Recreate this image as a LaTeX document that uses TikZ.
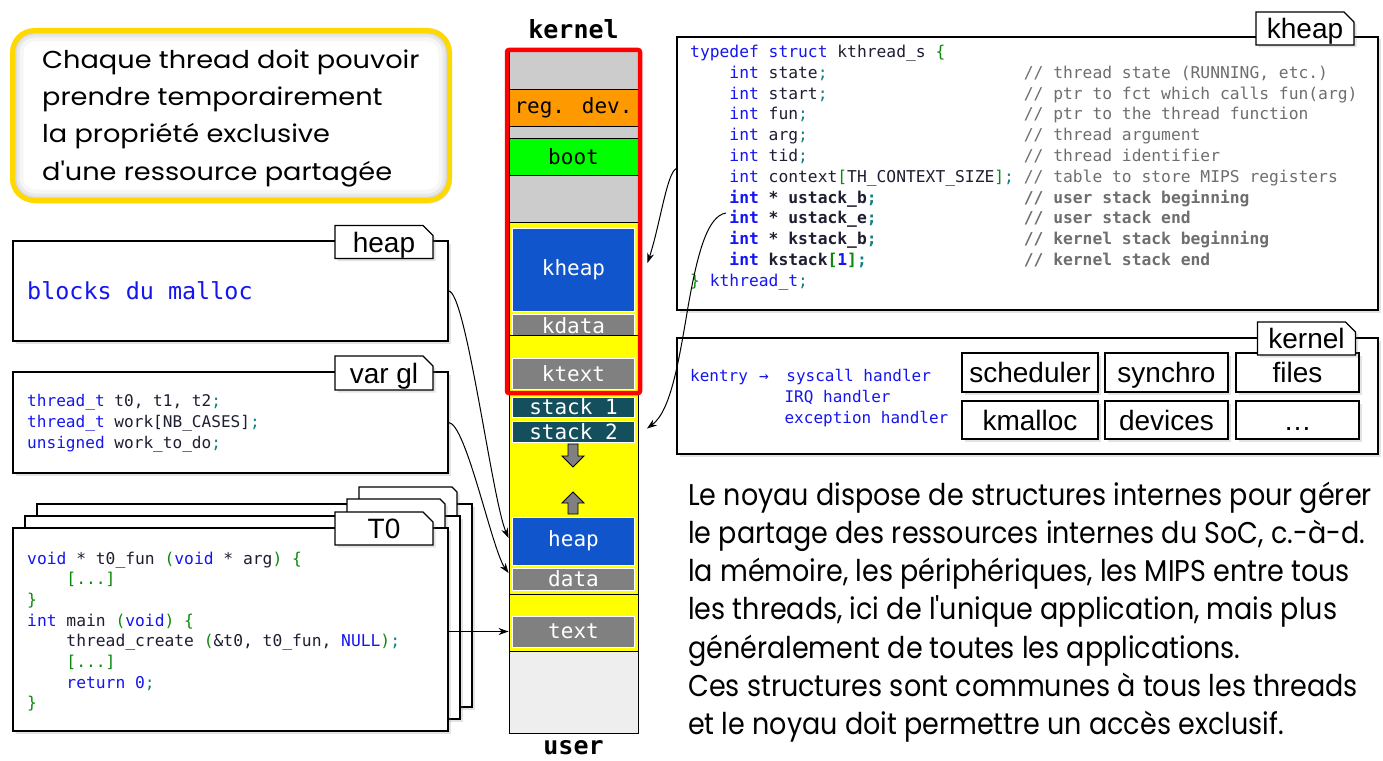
\documentclass[tikz,border=0pt]{standalone}
\usepackage{fontspec}
\usetikzlibrary{shadows,shapes.misc,arrows.meta}
\setmainfont{Liberation Sans}
\newfontfamily\tabfont{Liberation Sans}
\newfontfamily\codefont{DejaVu Sans Mono}
\newfontfamily\notefont[FakeStretch=1.11]{Poppins}
\newfontfamily\parafont[FakeStretch=0.90]{Poppins}

\definecolor{memgray}{HTML}{CCCCCC}
\definecolor{memlight}{HTML}{EEEEEE}
\definecolor{memorange}{HTML}{FF9900}
\definecolor{memgreen}{HTML}{00FF00}
\definecolor{memyellow}{HTML}{FFFF00}
\definecolor{memblue}{HTML}{1155CC}
\definecolor{segray}{HTML}{808080}
\definecolor{memteal}{HTML}{134F5C}
\definecolor{noteyellow}{HTML}{FFD800}
\definecolor{kwblue}{HTML}{1515F0}
\definecolor{codeink}{HTML}{1E1E32}
\definecolor{codegreen}{HTML}{0A8A0A}
\definecolor{codeteal}{HTML}{128080}
\definecolor{codegray}{HTML}{6E6E6E}

% code colouring helpers
\newcommand\kwd[1]{\textcolor{kwblue}{#1}}
\newcommand\grn[1]{\textcolor{codegreen}{#1}}
\newcommand\semicol{\textcolor{codeteal}{;}}
\newcommand\cmt[1]{\textcolor{codegray}{#1}}
\newcommand\indt{\hspace*{2.408em}}
\newcommand\ccol[1]{\makebox[18.06em][l]{#1}}

\tikzset{
  softshadow/.style={drop shadow={shadow xshift=2.5pt,shadow yshift=-2.5pt,opacity=0.22}},
  card/.style={draw=black, line width=1.1pt, fill=white, inner sep=0pt, softshadow},
  tabbox/.style={chamfered rectangle, chamfered rectangle corners=north east,
    chamfered rectangle xsep=5pt, chamfered rectangle ysep=5pt,
    draw=black, line width=1.1pt, fill=white, minimum width=98pt, minimum height=33pt,
    inner sep=0pt, text height=20pt, text depth=0pt,
    font=\tabfont\fontsize{28}{30}\selectfont, softshadow},
  unitbox/.style={draw=black, line width=1.1pt, fill=white, inner sep=0pt,
    text height=20pt, text depth=0pt, font=\tabfont\fontsize{28}{30}\selectfont, softshadow},
  memcell/.style={draw=black, line width=0.9pt, minimum width=129pt, inner sep=0pt,
    font=\codefont\fontsize{21}{24}\selectfont},
  memblk/.style={draw=white, line width=0.9pt, minimum width=122pt, inner sep=0pt,
    text=white, font=\codefont\fontsize{21}{24}\selectfont},
  codetxt/.style={inner sep=0pt, text=codeink, anchor=base west},
  conn/.style={-{Stealth[length=10pt,width=7pt]}, line width=1pt},
  blockarrow/.style={fill=segray, draw=black, line width=0.8pt},
  notebox/.style={draw=noteyellow, line width=5pt, rounded corners=22pt, fill=white,
    minimum width=437pt, minimum height=170pt, inner sep=0pt,
    drop shadow={shadow xshift=2pt,shadow yshift=-3pt,opacity=0.18},
    path picture={
      \foreach \w/\o in {22/0.035,14/0.05,8/0.07}{
        \draw[line width=\w pt, black, opacity=\o, rounded corners=22pt]
          (path picture bounding box.south west) rectangle (path picture bounding box.north east);}}},
  notetxt/.style={inner sep=0pt, anchor=base west, font=\notefont\fontsize{24.5}{30}\selectfont},
  paratxt/.style={inner sep=0pt, anchor=base west, font=\parafont\fontsize{30}{38}\selectfont},
}

\begin{document}
\begin{tikzpicture}[x=1pt,y=-1pt]
\useasboundingbox (0,0) rectangle (1383,760);

% ---------- note ----------
\node[notebox] (note) at (231,115.5) {};
\node[notetxt] (n1) at (42,68) {Chaque thread doit pouvoir};
\node[notetxt] (n2) at (42,105) {prendre temporairement};
\node[notetxt] (n3) at (42,142.5) {la propriété exclusive};
\node[notetxt] (n4) at (42,180) {d'une ressource partagée};

% ---------- heap ----------
\node[card, minimum width=435pt, minimum height=100pt] (heapbox) at (230.5,291) {};
\node[tabbox] (heaptab) at (384,242) {heap};
\node[codetxt, text=kwblue, font=\codefont\fontsize{23.4}{26}\selectfont] (malloc) at (27,299) {blocks du malloc};

% ---------- global variables ----------
\node[card, minimum width=435pt, minimum height=101pt] (varbox) at (230.5,422.5) {};
\node[tabbox, minimum height=34pt] (vartab) at (384,373) {var gl};
\node[codetxt, font=\codefont\fontsize{16.1}{20.7}\selectfont] (varcode) at (27,406.7) {%
\begin{tabular}[t]{@{}l@{}}
\kwd{thread\_t} t0, t1, t2\semicol\\
\kwd{thread\_t} work[NB\_CASES]\semicol\\
\kwd{unsigned} work\_to\_do\semicol
\end{tabular}};

% ---------- thread stack of cards ----------
\node[card, minimum width=435pt, minimum height=203pt] (tback2) at (254.5,605.5) {};
\node[tabbox] (tbacktab2) at (408,503.5) {};
\node[card, minimum width=435pt, minimum height=203pt] (tback1) at (242.5,617.5) {};
\node[tabbox] (tbacktab1) at (396,515.5) {};
\node[card, minimum width=435pt, minimum height=203pt] (tfront) at (230.5,629.5) {};
\node[tabbox] (tfronttab) at (384,528.5) {T0};
\node[codetxt, font=\codefont\fontsize{16.3}{20.7}\selectfont] (tcode) at (27,564) {%
\begin{tabular}[t]{@{}l@{}}
\kwd{void} * t0\_fun \grn{(}\kwd{void} * arg\grn{)} \grn{\{}\\
\indt\grn{[...]}\\
\grn{\}}\\
\kwd{int} main \grn{(}\kwd{void}\grn{)} \grn{\{}\\
\indt thread\_create \grn{(}\&t0, t0\_fun, \kwd{NULL}\grn{)}\semicol\\
\indt\grn{[...]}\\
\indt\kwd{return 0}\semicol\\
\grn{\}}
\end{tabular}};

% ---------- memory map ----------
\node[font=\codefont\bfseries\fontsize{25}{28}\selectfont, inner sep=0pt, anchor=base] (klabel) at (573.5,39) {kernel};
\node[memcell, fill=memgray, minimum height=41pt] (mtop) at (573.5,68.5) {};
\node[memcell, fill=memorange, minimum height=37pt] (mreg) at (573.5,107.5) {reg. dev.};
\node[memcell, fill=memgray, minimum height=12pt] (mgap) at (573.5,132) {};
\node[memcell, fill=memgreen, minimum height=37pt] (mboot) at (573.5,156.5) {boot};
\node[memcell, fill=memgray, minimum height=47pt] (mfree) at (573.5,198.5) {};
\node[memcell, fill=memyellow, minimum height=113pt] (kdseg) at (573.5,278.5) {};
\node[memblk, fill=memblue, minimum height=83pt] (kheapblk) at (573.5,269.5) {kheap};
\begin{scope}
  \clip (kdseg.north west) rectangle (kdseg.south east);
  \node[memblk, fill=segray, minimum height=24pt] (kdatablk) at (573.5,326) {kdata};
\end{scope}
\node[memcell, fill=memyellow, minimum height=58pt] (ktseg) at (573.5,364) {};
\node[memblk, fill=segray, minimum height=31pt] (ktextblk) at (573.5,373.5) {ktext};
\node[memcell, fill=memyellow, minimum height=201pt] (useg) at (573.5,493.5) {};
\node[memblk, fill=memteal, minimum height=20pt] (stk1) at (573.5,407) {stack 1};
\node[memblk, fill=memteal, minimum height=21pt] (stk2) at (573.5,431.5) {stack 2};
\node[memblk, fill=memblue, minimum height=48pt] (uheap) at (573.5,541) {heap};
\node[memblk, fill=segray, minimum height=22pt] (udata) at (573.5,579) {data};
\node[memcell, fill=memyellow, minimum height=57pt] (tseg) at (573.5,622.5) {};
\node[memblk, fill=segray, minimum height=31pt] (utext) at (573.5,631.5) {text};
\node[memcell, fill=memlight, minimum height=82pt] (mbot) at (573.5,692) {};
\node[font=\codefont\bfseries\fontsize{25}{28}\selectfont, inner sep=0pt, anchor=base] (ulabel) at (573.5,754) {user};
% kernel area frame
\draw[red, line width=4.5pt, rounded corners=2pt] (507,50) rectangle (640,393);
% stack and heap growth directions
\draw[blockarrow] (568,444) -- (578,444) -- (578,456) -- (584,456) -- (573,467) -- (562,456) -- (568,456) -- cycle;
\draw[blockarrow] (568,514) -- (578,514) -- (578,503) -- (584,503) -- (573,492) -- (562,503) -- (568,503) -- cycle;

% ---------- kthread structure ----------
\node[card, minimum width=701pt, minimum height=273pt] (kthbox) at (1027.5,173.5) {};
\node[tabbox] (kheaptab) at (1305,28.5) {kheap};
\node[codetxt, font=\codefont\fontsize{16.3}{20.8}\selectfont] (kcode) at (690,57.5) {%
\begin{tabular}[t]{@{}l@{}}
\kwd{typedef struct} kthread\_s \grn{\{}\\
\indt\ccol{\kwd{int} state\semicol}\cmt{// thread state (RUNNING, etc.)}\\
\indt\ccol{\kwd{int} start\semicol}\cmt{// ptr to fct which calls fun(arg)}\\
\indt\ccol{\kwd{int} fun\semicol}\cmt{// ptr to the thread function}\\
\indt\ccol{\kwd{int} arg\semicol}\cmt{// thread argument}\\
\indt\ccol{\kwd{int} tid\semicol}\cmt{// thread identifier}\\
\indt\ccol{\kwd{int} context\grn{[}TH\_CONTEXT\_SIZE\grn{]}\semicol}\cmt{// table to store MIPS registers}\\
\bfseries\indt\ccol{\kwd{int} * ustack\_b\semicol}\cmt{// user stack beginning}\\
\bfseries\indt\ccol{\kwd{int} * ustack\_e\semicol}\cmt{// user stack end}\\
\bfseries\indt\ccol{\kwd{int} * kstack\_b\semicol}\cmt{// kernel stack beginning}\\
\bfseries\indt\ccol{\kwd{int} kstack\grn{[}\kwd{1}\grn{]}\semicol}\cmt{// kernel stack end}\\
\grn{\}} \kwd{kthread\_t}\semicol
\end{tabular}};

% ---------- kernel services ----------
\node[card, minimum width=701pt, minimum height=116pt] (kernbox) at (1027.5,396) {};
\node[codetxt, text=kwblue, font=\codefont\fontsize{16}{20.7}\selectfont] (kentry) at (690,381.7) {%
\begin{tabular}[t]{@{}l@{}}
kentry\hspace*{0.7em}→\hspace*{1.1em}syscall handler\\
\hspace*{5.9em}IRQ handler\\
\hspace*{5.9em}exception handler
\end{tabular}};
\node[unitbox, minimum width=136pt, minimum height=39pt] (sched) at (1030,372.5) {scheduler};
\node[unitbox, minimum width=123pt, minimum height=39pt] (sync) at (1166.5,372.5) {synchro};
\node[unitbox, minimum width=123pt, minimum height=39pt] (files) at (1297.5,372.5) {files};
\node[unitbox, minimum width=136pt, minimum height=38pt] (kmal) at (1030,420) {kmalloc};
\node[unitbox, minimum width=123pt, minimum height=38pt] (devs) at (1166.5,420) {devices};
\node[unitbox, minimum width=123pt, minimum height=38pt] (more) at (1297.5,420) {…};
\node[tabbox] (kerntab) at (1306.5,338.5) {kernel};

% ---------- explanation ----------
\node[paratxt] (p1) at (688,505) {Le noyau dispose de structures internes pour gérer};
\node[paratxt] (p2) at (688,543.3) {le partage des ressources internes du SoC, c.-à-d.};
\node[paratxt] (p3) at (688,581.6) {la mémoire, les périphériques, les MIPS entre tous};
\node[paratxt] (p4) at (688,619.9) {les threads, ici de l'unique application, mais plus};
\node[paratxt] (p5) at (688,658.2) {généralement de toutes les applications.};
\node[paratxt] (p6) at (688,696.5) {Ces structures sont communes à tous les threads};
\node[paratxt] (p7) at (688,734.8) {et le noyau doit permettre un accès exclusif.};

% ---------- connectors ----------
\path (uheap.west -| useg.west) ++(0,-3) coordinate (heapIn);
\path (udata.west -| useg.west) ++(0,-6) coordinate (dataIn);
\path (kheapblk.east) ++(12.5,-6.5) coordinate (kheapIn);
\path (stk2.east) ++(12,-3) coordinate (stackIn);
\path (kthbox.west) ++(0,-5) coordinate (kthOut);
\coordinate (ustackOut) at (726,213);

\draw[conn] (heapbox.east) .. controls (466,291) and (492,500) .. (heapIn);
\draw[conn] (varbox.east) .. controls (466,423) and (492,550) .. (dataIn);
\draw[conn] (tfront.east |- utext.west) -- (utext.west -| tseg.west);
\draw[conn] (kthOut) .. controls (667,172) and (660,225) .. (kheapIn);
\draw[conn] (ustackOut) .. controls (708,216) and (698,250) .. (688,307)
  .. controls (679,360) and (671,411) .. (stackIn);
\end{tikzpicture}
\end{document}
